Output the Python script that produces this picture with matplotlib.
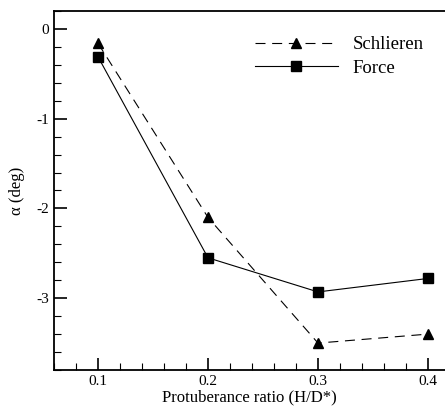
import matplotlib
matplotlib.use("Agg")
import matplotlib.pyplot as plt
from matplotlib.ticker import MultipleLocator

ratio = [0.1, 0.2, 0.3, 0.4]
schlieren = [-0.16, -2.1, -3.5, -3.4]
force = [-0.31, -2.55, -2.93, -2.78]
x_ticks = [0.1, 0.2, 0.3, 0.4]
y_ticks = [0, -1, -2, -3]

plt.rcParams['font.family'] = ['Liberation Serif', 'DejaVu Serif']

fig = plt.figure(figsize=(4.45, 4.07), dpi=100)
W, H = 445, 407
left, right, top, bottom = 54, 445, 11, 370
ax = fig.add_axes([left / W, 1 - bottom / H, (right - left) / W, (bottom - top) / H])

ax.plot(ratio, schlieren, color='black', lw=0.8, ls=(0, (9, 6)), marker='^', ms=7,
        label='Schlieren')
ax.plot(ratio, force, color='black', lw=0.8, ls='-', marker='s', ms=6.5, label='Force')

x0 = 0.1 - 44 / 110 * 0.1
x1 = 0.1 + (445 - 98) / 110 * 0.1
ax.set_xlim(x0, x1)
ax.set_ylim(-3.8, 0.2)
ax.set_xticks(x_ticks)
ax.set_xticklabels([str(v) for v in x_ticks])
ax.set_yticks(y_ticks)
ax.set_yticklabels([str(v) for v in y_ticks])
ax.xaxis.set_minor_locator(MultipleLocator(0.02))
ax.yaxis.set_minor_locator(MultipleLocator(0.2))
ax.tick_params(which='major', direction='in', length=9, width=1.2, labelsize=11)
ax.tick_params(which='minor', direction='in', length=5, width=0.8)
ax.tick_params(top=False, right=False, which='both')
ax.spines['right'].set_visible(False)
for s in ['left', 'bottom', 'top']:
    ax.spines[s].set_linewidth(1.3)

ax.set_xlabel('Protuberance ratio (H/D*)', fontsize=12, labelpad=1)
ax.set_ylabel('α (deg)', fontsize=12, labelpad=8)

ax.legend(loc='upper left', bbox_to_anchor=(255 / W, 1 - 36 / H),
          bbox_transform=fig.transFigure, frameon=False, fontsize=13.5,
          borderpad=0, borderaxespad=0,
          handlelength=4.4, handletextpad=0.8, labelspacing=0.35)

fig.savefig('out.png', dpi=100)
